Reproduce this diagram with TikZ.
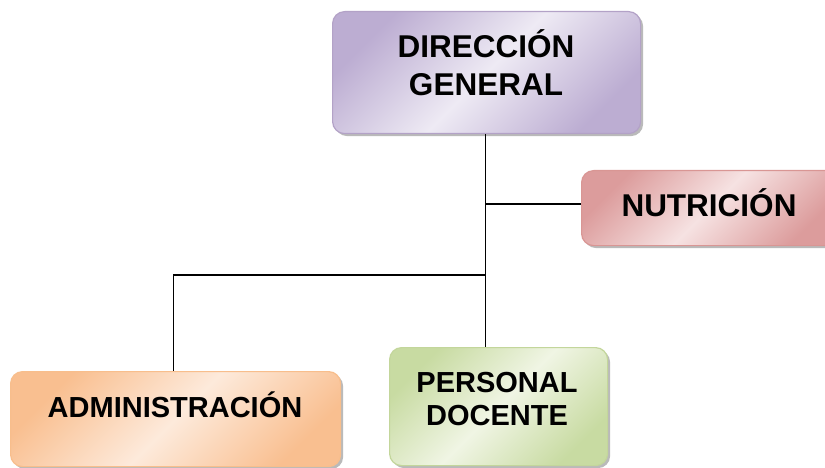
\documentclass[tikz,border=0pt]{standalone}
\usepackage{fontspec}
\setmainfont{Liberation Sans}
\usetikzlibrary{shadows}
\definecolor{purB}{HTML}{B3A2C7}\definecolor{purD}{HTML}{BCADD2}\definecolor{purL}{HTML}{EEEAF4}
\definecolor{redB}{HTML}{D99694}\definecolor{redD}{HTML}{DC9C9C}\definecolor{redL}{HTML}{F6E2E2}
\definecolor{oraB}{HTML}{F8BE8C}\definecolor{oraD}{HTML}{F9BF90}\definecolor{oraL}{HTML}{FDEADB}
\definecolor{grnB}{HTML}{C3D69B}\definecolor{grnD}{HTML}{C8DBA2}\definecolor{grnL}{HTML}{F0F5E4}
\tikzset{
  box/.style={rounded corners=12pt, line width=1.2pt, inner sep=0pt, anchor=north west,
    drop shadow={shadow xshift=2.5pt, shadow yshift=-2.5pt, fill=black!45, opacity=.6}},
  lbl/.style={font=\bfseries, align=center, text=black, inner sep=0pt},
  link/.style={draw=black, line width=1.1pt}
}
\begin{document}
\begin{tikzpicture}[x=1pt,y=-1pt]
\useasboundingbox (0,0) rectangle (825,468);
\clip (0,0) rectangle (825,468);
% boxes
\node[box, draw=purB, left color=purD, right color=purD, middle color=purL, shading angle=45,
  minimum width=308pt, minimum height=122pt] (dir) at (332,11) {};
\node[box, draw=redB, left color=redD, right color=redD, middle color=redL, shading angle=45,
  minimum width=256pt, minimum height=75pt] (nut) at (581,170) {};
\node[box, draw=oraB, left color=oraD, right color=oraD, middle color=oraL, shading angle=45,
  minimum width=330pt, minimum height=95pt] (adm) at (10,371) {};
\node[box, draw=grnB, left color=grnD, right color=grnD, middle color=grnL, shading angle=45,
  minimum width=218pt, minimum height=118pt] (per) at (389,347) {};
% labels
\node[lbl, font=\fontsize{31.5}{38}\selectfont\bfseries] at (486,63) {DIRECCIÓN\\GENERAL};
\node[lbl, font=\fontsize{31.5}{38}\selectfont\bfseries] at (709,203) {NUTRICIÓN};
\node[lbl, font=\fontsize{29}{33}\selectfont\bfseries] at (175,405) {ADMINISTRACIÓN};
\node[lbl, font=\fontsize{29}{33}\selectfont\bfseries] at (497,399) {PERSONAL\\DOCENTE};
% connectors
\coordinate (top) at ([xshift=-1pt]dir.south);
\coordinate (j1) at (485,204);
\coordinate (j2) at (485,275);
\draw[link] (top) -- (top |- per.north);
\draw[link] (j1) -- (j1 -| nut.west);
\draw[link] (j2) -| ([xshift=-2pt]adm.north);
\end{tikzpicture}
\end{document}
